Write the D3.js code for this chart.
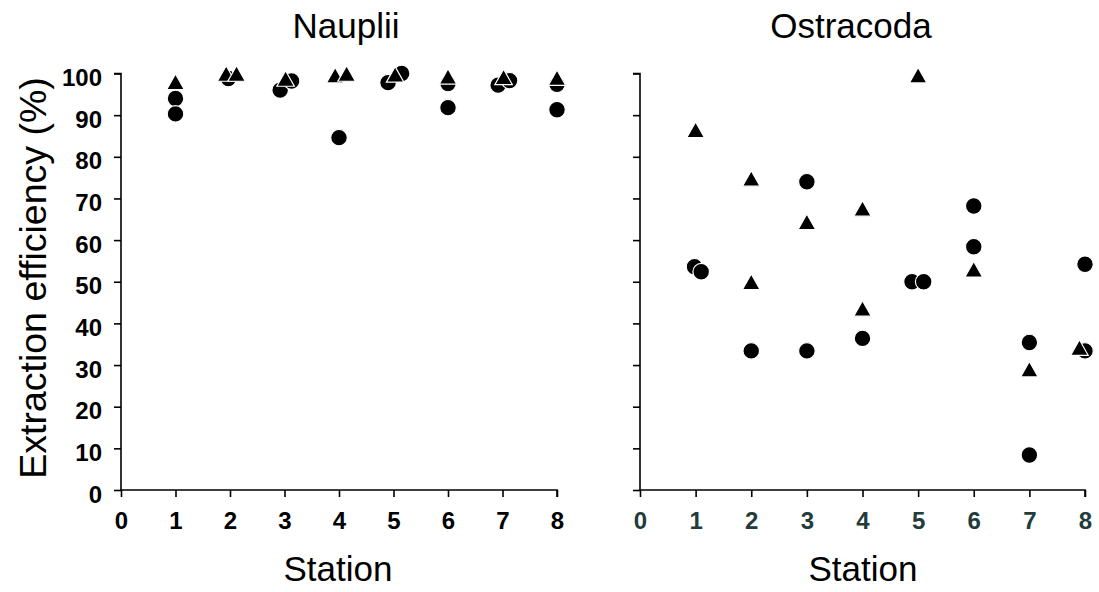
<!DOCTYPE html>
<html><head><meta charset="utf-8">
<script src="https://cdn.jsdelivr.net/npm/d3@7"></script>
<style>body{margin:0;background:#fff}svg{display:block}text{font-family:"Liberation Sans",Arial,sans-serif}</style>
</head><body>
<svg id="c" width="1099" height="592"></svg>
<script>
const stationTicks = [0,1,2,3,4,5,6,7,8];
const yTicks = [0,10,20,30,40,50,60,70,80,90,100];
const panelTitles = ["Nauplii","Ostracoda"];
const xLabel = "Station";
const yLabel = "Extraction efficiency (%)";

// Nauplii
const naupCircleX = [1,1, 1.97, 2.92,3.13, 4.0, 4.9,5.15, 6,6, 6.92,7.13, 8,8];
const naupCircleY = [94,90.3, 98.8, 96,98.2, 84.6, 97.8,100, 97.6,91.8, 97.2,98.3, 97.4,91.3];
const naupTriX = [1, 1.93,2.12, 3.02, 3.93,4.14, 5.03, 6, 7.02, 8];
const naupTriY = [98, 100,100, 98.8, 99.6,100, 99.8, 99.3, 99.2, 99];

// Ostracoda
const ostrCircleX = [0.98,1.1, 2, 3,3, 4, 4.89,5.1, 6,6, 7,7, 8,8];
const ostrCircleY = [53.6,52.4, 33.4, 74,33.4, 36.4, 50,50, 68.2,58.4, 35.4,8.4, 54.2,33.4];
const ostrTriX = [1, 2,2, 3, 4,4, 5, 6, 7, 7.9];
const ostrTriY = [86.5, 74.8,50, 64.4, 67.6,43.6, 99.6, 53, 29, 34.2];

const svg = d3.select("#c");
const panels = [
  {x0:121, x1:557, title:panelTitles[0], tx:346, sx:338, labels:true, tickColor:"#000",
   cx:naupCircleX, cy:naupCircleY, tX:naupTriX, tY:naupTriY},
  {x0:640, x1:1085, title:panelTitles[1], tx:851, sx:863, labels:false, tickColor:"#233b3b",
   cx:ostrCircleX, cy:ostrCircleY, tX:ostrTriX, tY:ostrTriY}
];
const yTop = 73.5, yBot = 490;
const y = d3.scaleLinear().domain([0,100]).range([yBot, yTop]);
const R = 8.3, TW = 17.5, TH = 15.5;
const triPath = `M0,${-TH/2}L${TW/2},${TH/2}L${-TW/2},${TH/2}Z`;

panels.forEach(p => {
  const x = d3.scaleLinear().domain([0,8]).range([p.x0, p.x1]);
  const g = svg.append("g");
  const ya = g.append("g").attr("transform",`translate(${p.x0},0)`)
    .call(d3.axisLeft(y).tickValues(yTicks).tickSize(7).tickPadding(12).tickFormat(p.labels ? d3.format("d") : ""));
  ya.select(".domain").attr("stroke","#000").attr("stroke-width",1.6).attr("d",`M-7,${yTop}H0V${yBot}`);
  ya.selectAll(".tick line").attr("stroke","#000").attr("stroke-width",1.6);
  ya.selectAll(".tick text").attr("font-size",24).attr("font-weight","bold").attr("fill","#000").attr("dy","0.5em");
  const xa = g.append("g").attr("transform",`translate(0,${yBot})`)
    .call(d3.axisBottom(x).tickValues(stationTicks).tickSize(7).tickPadding(10).tickFormat(d3.format("d")));
  xa.select(".domain").attr("stroke","#000").attr("stroke-width",1.6).attr("d",`M${p.x0},0H${p.x1}V7`);
  xa.selectAll(".tick line").attr("stroke","#000").attr("stroke-width",1.6);
  xa.selectAll(".tick text").attr("font-size",24).attr("font-weight","bold").attr("fill",p.tickColor).attr("dy","0.9em");
  g.append("text").attr("x",p.tx).attr("y",38).attr("text-anchor","middle").attr("font-size",35).attr("fill","#000").text(p.title);
  g.append("text").attr("x",p.sx).attr("y",581).attr("text-anchor","middle").attr("font-size",35).attr("fill","#000").text(xLabel);
  g.append("g").selectAll("circle").data(d3.range(p.cx.length)).join("circle")
    .attr("cx",i=>x(p.cx[i])).attr("cy",i=>y(p.cy[i])).attr("r",R)
    .attr("fill","#000").attr("stroke","#fff").attr("stroke-width",1.2);
  g.append("g").selectAll("path").data(d3.range(p.tX.length)).join("path")
    .attr("transform",i=>`translate(${x(p.tX[i])},${y(p.tY[i])})`).attr("d",triPath)
    .attr("fill","#000").attr("stroke","#fff").attr("stroke-width",1.2);
});

svg.append("text").attr("transform","translate(46,278) rotate(-90)").attr("text-anchor","middle")
  .attr("font-size",37.5).attr("fill","#000").text(yLabel);
</script>
</body></html>
